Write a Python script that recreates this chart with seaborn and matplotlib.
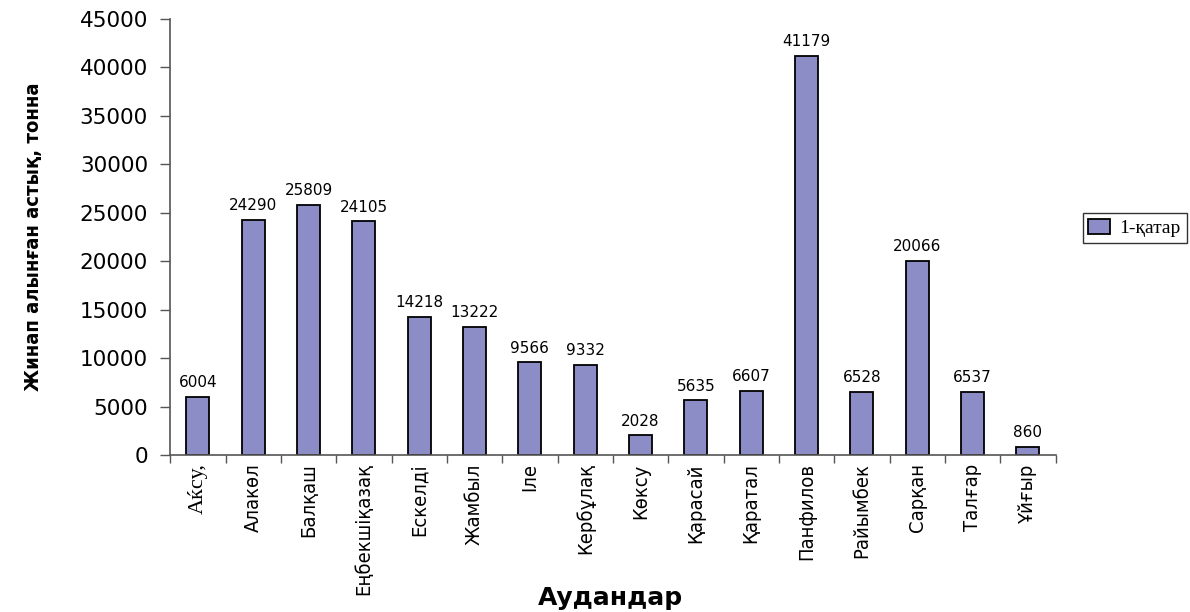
import matplotlib
matplotlib.use("Agg")
import matplotlib.pyplot as plt
import seaborn as sns
import pandas as pd
from matplotlib.ticker import FixedLocator, NullFormatter

districts = ["Аќсу,", "Алакөл", "Балқаш", "Еңбекшіқазақ", "Ескелді", "Жамбыл", "Іле",
             "Кербұлақ", "Көксу", "Қарасай", "Қаратал", "Панфилов", "Райымбек",
             "Сарқан", "Талғар", "Ұйғыр"]
grain = [6004, 24290, 25809, 24105, 14218, 13222, 9566, 9332, 2028, 5635, 6607,
         41179, 6528, 20066, 6537, 860]
series_name = "1-қатар"
yticks = [0, 5000, 10000, 15000, 20000, 25000, 30000, 35000, 40000, 45000]

df = pd.DataFrame({"district": districts, "grain": grain, "series": series_name})

sns.set_theme(style="white")
plt.rcParams["font.family"] = ["DejaVu Sans"]
plt.rcParams["text.color"] = "black"
plt.rcParams["xtick.color"] = "black"
plt.rcParams["ytick.color"] = "black"
plt.rcParams["axes.labelcolor"] = "black"

fig = plt.figure(figsize=(11.9, 6.12), dpi=100)
ax = fig.add_axes([0.143, 0.2565, 0.744, 0.7125])

bar_color = "#8c8cc6"
sns.barplot(data=df, x="district", y="grain", hue="series", palette=[bar_color],
            width=0.42, edgecolor="black", linewidth=1.3, ax=ax, saturation=1)

ax.set_xlim(-0.5, len(districts) - 0.5)
ax.set_ylim(0, 45000)
ax.set_yticks(yticks)
ax.set_yticklabels([str(v) for v in yticks], fontsize=15.5)

for spine in ["top", "right"]:
    ax.spines[spine].set_visible(False)
for spine in ["left", "bottom"]:
    ax.spines[spine].set_color("#555555")
    ax.spines[spine].set_linewidth(1.2)

ax.tick_params(axis="y", direction="out", length=7, width=1, color="#555555", pad=9, left=True)
ax.tick_params(axis="x", which="major", length=0, pad=6)
ax.xaxis.set_minor_locator(FixedLocator([i + 0.5 for i in range(-1, len(districts))]))
ax.xaxis.set_minor_formatter(NullFormatter())
ax.tick_params(axis="x", which="minor", direction="out", length=6, width=1, color="#555555", bottom=True)

ax.set_xticks(range(len(districts)))
labels = ax.set_xticklabels(districts, rotation=90, fontsize=14.5, fontstretch="condensed")
labels[0].set_family(["Liberation Serif", "DejaVu Serif"])
labels[0].set_fontsize(16)

for i, v in enumerate(grain):
    ax.text(i, v + 700, str(v), ha="center", va="bottom", fontsize=11)

ax.set_ylabel("Жинап алынған астық, тонна", fontsize=14.5, fontweight="bold",
              fontstretch="condensed", labelpad=26)
ax.set_xlabel("")
fig.text(0.513, 0.003, "Аудандар", ha="center", va="bottom", fontsize=18, fontweight="bold")

leg = ax.legend(loc="center left", bbox_to_anchor=(0.9015, 0.627), bbox_transform=fig.transFigure,
                frameon=True, fancybox=False, edgecolor="black", handlelength=1.1,
                handleheight=0.8, borderpad=0.3, handletextpad=0.5,
                prop={"family": ["Liberation Serif"], "size": 14})
leg.get_frame().set_linewidth(1.0)

fig.savefig("out.png", dpi=100)
